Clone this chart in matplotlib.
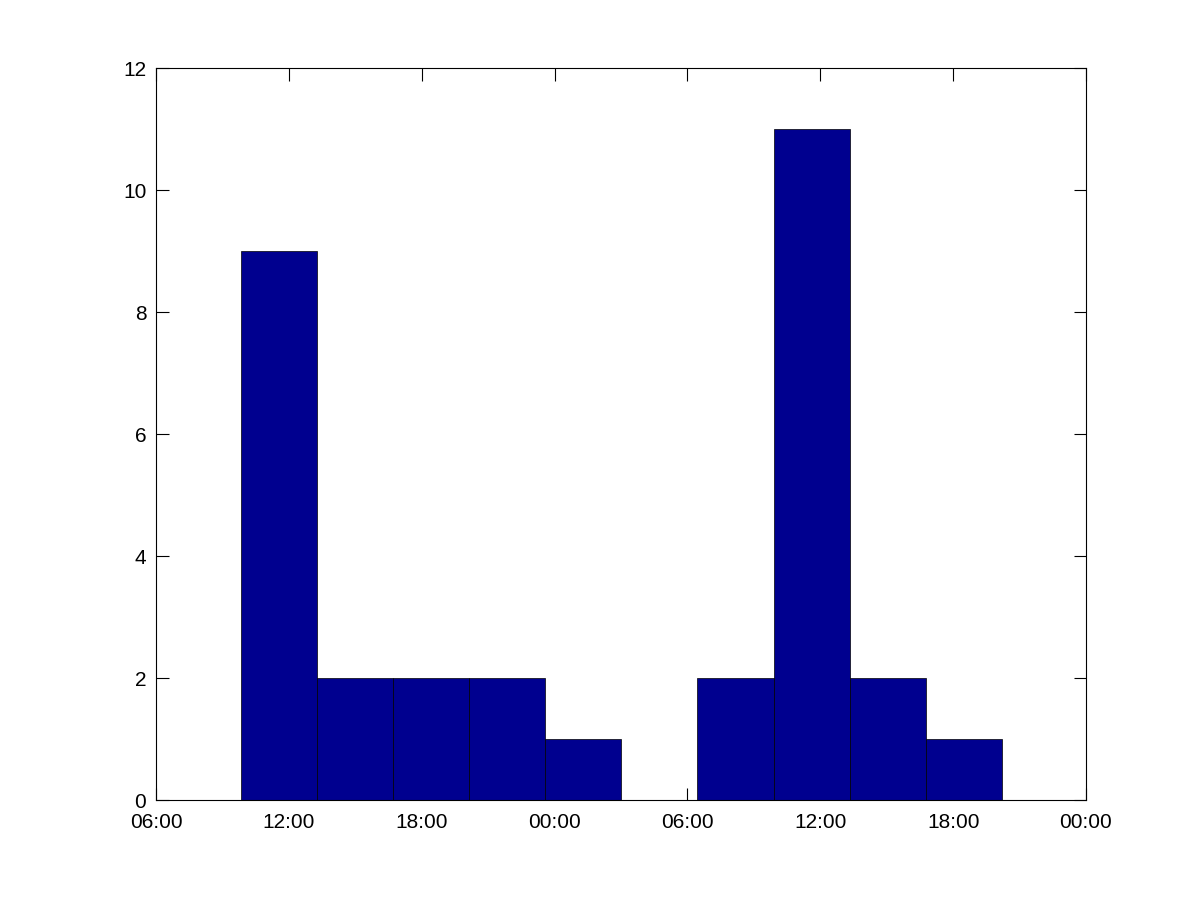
import matplotlib
matplotlib.use("Agg")
import matplotlib.pyplot as plt
import numpy as np

# Bin edges in hours after 06:00 of the first day, and counts per bin
bin_edges = [3.84, 7.27, 10.71, 14.15, 17.58, 21.02, 24.45, 27.89, 31.33, 34.76, 38.20]
counts = [9, 2, 2, 2, 1, 0, 2, 11, 2, 1]

tick_hours = [0, 6, 12, 18, 24, 30, 36, 42]
tick_labels = ["06:00", "12:00", "18:00", "00:00", "06:00", "12:00", "18:00", "00:00"]
y_ticks = [0, 2, 4, 6, 8, 10, 12]

plt.rcParams['font.family'] = ['Liberation Sans', 'DejaVu Sans']

fig = plt.figure(figsize=(12, 9), dpi=100)
ax = fig.add_axes([0.13, 0.111, 0.775, 0.813])
ax.set_axisbelow(True)

left = np.array(bin_edges[:-1])
widths = np.diff(bin_edges)
ax.bar(left, counts, width=widths, align='edge', color='#00008F',
       edgecolor='black', linewidth=0.5)

ax.set_xlim(0, 42)
ax.set_ylim(0, 12)
ax.set_xticks(tick_hours)
ax.set_xticklabels(tick_labels)
ax.set_yticks(y_ticks)

ax.tick_params(direction='in', length=9, width=0.8, top=True, right=True,
               labelsize=15)
ax.tick_params(axis='x', pad=9)
ax.tick_params(axis='y', pad=7)
for s in ax.spines.values():
    s.set_linewidth(0.8)
    s.set_zorder(3)

fig.savefig("out.png", dpi=100, facecolor='white')
